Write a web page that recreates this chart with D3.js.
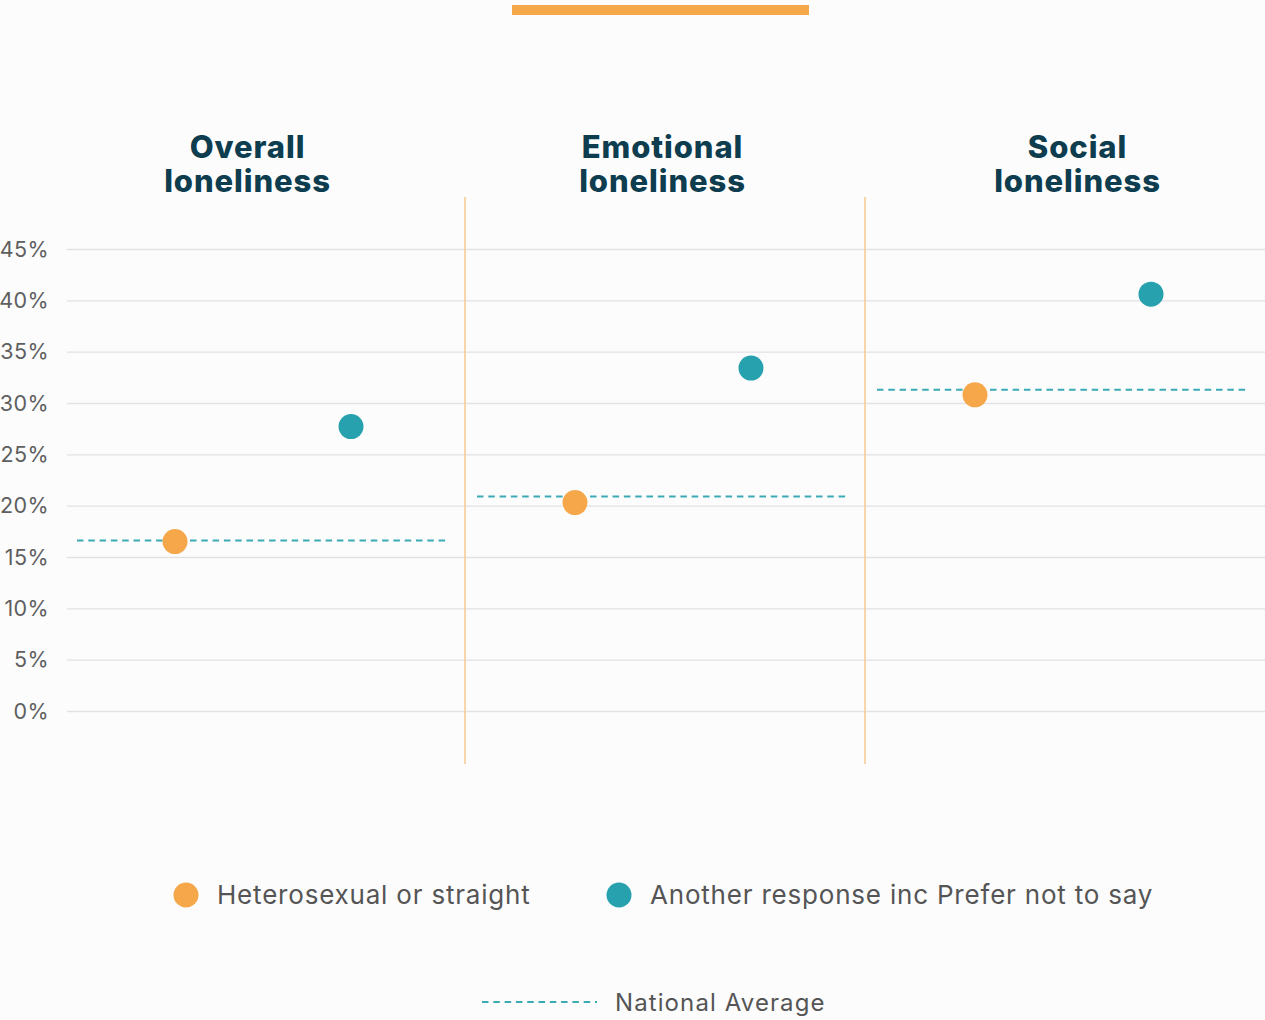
<!DOCTYPE html>
<html><head><meta charset="utf-8">
<script src="https://cdn.jsdelivr.net/npm/d3@7"></script>
<style>
html,body{margin:0;padding:0;background:#fcfcfd;}
svg{display:block;}
</style></head>
<body>
<script>
// ---- data ----
const panels = ["Overall loneliness", "Emotional loneliness", "Social loneliness"];
const titleLines = [["Overall", "loneliness"], ["Emotional", "loneliness"], ["Social", "loneliness"]];
const series = ["Heterosexual or straight", "Another response inc Prefer not to say"];
const heteroValues = [16.5, 20.3, 30.8];
const otherValues = [27.7, 33.4, 40.6];
const nationalAverage = [16.6, 20.9, 31.3];
const yTicks = [0, 5, 10, 15, 20, 25, 30, 35, 40, 45];
const colors = ["#f5a74a", "#26a1ad"];

const W = 1265, H = 1020;
const svg = d3.select("body").append("svg").attr("width", W).attr("height", H);
svg.append("rect").attr("width", W).attr("height", H).attr("fill", "#fcfcfd");

const fontBody = "Inter, 'Noto Sans', sans-serif";

// top accent bar
svg.append("rect").attr("x", 512).attr("y", 5).attr("width", 297).attr("height", 10).attr("fill", "#f5a74a");

const y = d3.scaleLinear().domain([0, 45]).range([711, 249]);
const xPanel = d3.scaleBand().domain(panels).range([65, 1265]).paddingInner(0).paddingOuter(0);
const xTitle = d3.scaleBand().domain(panels).range([40, 1285]);
const inner = d3.scaleLinear().domain([0, 1]).range([0.275 * xPanel.bandwidth(), 0.715 * xPanel.bandwidth()]);

// gridlines
const yAxis = d3.axisLeft(y).tickValues(yTicks).tickFormat(d => d + "%").tickSize(-(W - 67)).tickPadding(18);
const gAxis = svg.append("g").attr("transform", "translate(67,0)").call(yAxis);
gAxis.select(".domain").remove();
gAxis.selectAll(".tick line").attr("stroke", "#e1e1e6").attr("stroke-width", 1.3);
gAxis.selectAll(".tick text").attr("fill", "#5f5f5f").attr("font-family", fontBody)
  .attr("font-size", 21.5).attr("font-weight", 400).attr("letter-spacing", 0.4)
  .attr("dy", "0.34em").attr("x", -18);

// separators
svg.append("g").selectAll("line").data(panels.slice(1)).join("line")
  .attr("x1", d => xPanel(d)).attr("x2", d => xPanel(d))
  .attr("y1", 197).attr("y2", 764)
  .attr("stroke", "#f8c98f").attr("stroke-width", 1.5);

// titles
const titles = svg.append("g").selectAll("text").data(panels).join("text")
  .attr("x", d => xTitle(d) + xTitle.bandwidth() / 2)
  .attr("y", 158)
  .attr("text-anchor", "middle")
  .attr("fill", "#0d3d4f")
  .attr("font-family", "Inter, sans-serif")
  .attr("font-weight", 800)
  .attr("font-size", 31)
  .attr("letter-spacing", 0.9);
titles.each(function(d, i) {
  const t = d3.select(this);
  titleLines[i].forEach((ln, j) => {
    t.append("tspan").attr("x", xTitle(d) + xTitle.bandwidth() / 2).attr("dy", j === 0 ? 0 : 34).text(ln);
  });
});

// national average dashed lines
svg.append("g").selectAll("line").data(panels).join("line")
  .attr("x1", d => xPanel(d) + 12)
  .attr("x2", d => xPanel(d) + xPanel.bandwidth() - 16)
  .attr("y1", (d, i) => y(nationalAverage[i]))
  .attr("y2", (d, i) => y(nationalAverage[i]))
  .attr("stroke", "#3aaab5").attr("stroke-width", 2).attr("stroke-dasharray", "6.5,4.8");

// dots
const allVals = [heteroValues, otherValues];
series.forEach((s, si) => {
  svg.append("g").selectAll("circle").data(panels).join("circle")
    .attr("cx", d => xPanel(d) + inner(si))
    .attr("cy", (d, i) => y(allVals[si][i]))
    .attr("r", 12.5)
    .attr("fill", colors[si]);
});

// legend
const leg = svg.append("g");
const legX = [186, 619];
series.forEach((s, si) => {
  leg.append("circle").attr("cx", legX[si]).attr("cy", 895).attr("r", 12.5).attr("fill", colors[si]);
  leg.append("text").attr("x", legX[si] + 31).attr("y", 904).text(s)
    .attr("fill", "#555").attr("font-family", fontBody).attr("font-size", 26).attr("letter-spacing", 0.8);
});
leg.append("line").attr("x1", 482).attr("x2", 597).attr("y1", 1002).attr("y2", 1002)
  .attr("stroke", "#3aaab5").attr("stroke-width", 2).attr("stroke-dasharray", "6.5,4.8");
leg.append("text").attr("x", 615).attr("y", 1011).text("National Average")
  .attr("fill", "#555").attr("font-family", fontBody).attr("font-size", 24).attr("letter-spacing", 1.1);
</script>
</body></html>
